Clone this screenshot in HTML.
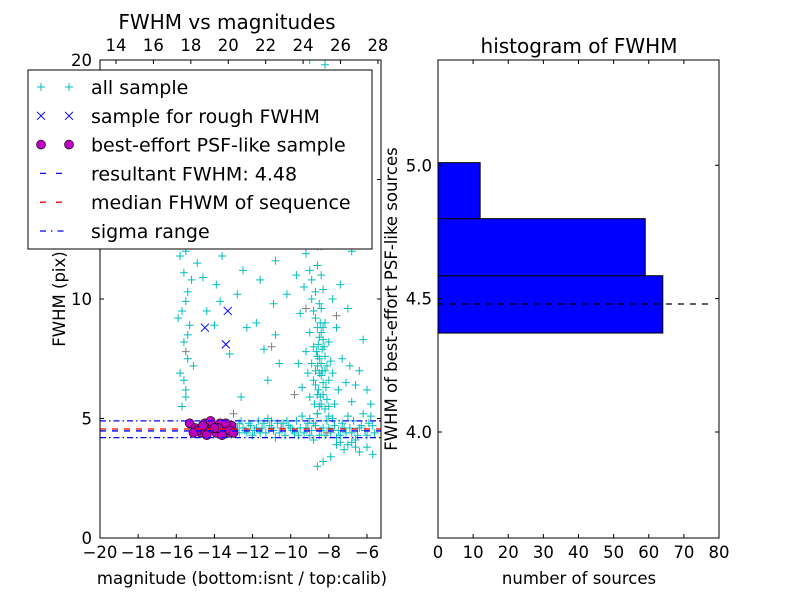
<!DOCTYPE html>
<html><head><meta charset="utf-8"><style>
body{margin:0;background:#fff}
svg{font-family:"DejaVu Sans","Liberation Sans",sans-serif}
</style></head><body>
<svg id="chart" width="800" height="600" viewBox="0 0 800 600">
<rect width="800" height="600" fill="#fff"/>
<g id="left"></g>
<g id="right"></g>
</svg>
<script>
const allSample = [[-15.2,4.6],[-14.8,4.7],[-12.9,4.5],[-12.7,4.8],[-12.5,4.6],[-12.3,4.4],[-12.1,4.7],[-11.9,4.5],[-11.7,4.9],[-11.5,4.6],[-11.3,4.4],[-11.1,4.7],[-10.9,4.5],[-10.7,4.8],[-10.5,4.6],[-10.3,4.3],[-10.1,4.7],[-9.9,4.5],[-9.7,4.9],[-9.5,4.6],[-9.3,4.4],[-9.1,4.8],[-8.9,4.5],[-8.7,4.7],[-8.5,4.3],[-8.3,4.6],[-8.1,4.9],[-7.9,4.4],[-7.7,4.7],[-7.5,4.5],[-7.3,4.8],[-7.1,4.4],[-6.9,4.6],[-6.7,4.9],[-6.5,4.3],[-6.3,4.7],[-6.1,4.5],[-5.9,4.8],[-5.6,4.4],[-12.6,4.9],[-11.2,5.0],[-10.2,4.9],[-9.4,5.1],[-8.6,5.2],[-7.8,5.0],[-7.0,5.1],[-6.2,5.2],[-12.0,4.3],[-10.8,4.2],[-9.6,4.3],[-8.8,4.1],[-7.6,4.2],[-6.6,4.1],[-5.8,5.1],
[-12.8,4.6],[-12.4,4.5],[-12.2,4.8],[-11.8,4.6],[-11.6,4.4],[-11.4,4.8],[-11.0,4.6],[-10.6,4.4],[-10.4,4.8],[-10.0,4.6],[-9.8,4.4],[-9.2,4.6],[-9.0,4.3],[-8.8,4.8],[-8.4,4.5],[-8.2,4.3],[-8.0,4.6],[-7.4,4.3],[-7.2,4.6],[-6.8,4.4],[-6.4,4.6],[-6.0,4.3],[-5.7,4.7],[-12.7,4.4],[-11.0,4.9],[-9.0,5.0],[-8.0,5.1],
[-7.6,3.9],[-7.2,3.7],[-6.8,4.0],[-6.4,3.6],[-6.0,3.8],[-5.7,3.5],[-7.9,3.4],[-8.3,3.2],[-8.6,3.0],[-7.4,4.0],[-7.0,3.9],[-6.6,3.8],
[-8.5,5.5],[-8.3,6.0],[-8.7,6.4],[-8.4,6.8],[-8.6,7.2],[-8.2,7.6],[-8.8,8.0],[-8.5,8.4],[-8.3,8.8],[-8.7,9.2],[-8.4,9.6],[-8.9,10.0],[-8.1,5.8],[-8.0,6.6],[-7.9,7.4],[-8.0,8.2],[-9.0,5.9],[-9.1,6.9],[-9.2,7.8],[-9.0,8.6],[-8.6,5.2],[-8.2,5.4],[-7.7,5.6],[-7.5,6.2],[-7.8,6.9],[-9.4,6.3],[-9.6,7.3],[-8.9,10.8],[-8.6,11.4],[-8.3,10.4],[-9.2,11.9],[-8.8,12.6],[-9.5,9.4],[-7.6,8.8],[-7.3,7.5],[-7.1,6.5],[-6.8,5.7],[-6.6,6.4],[-6.9,7.2],[-7.0,9.6],
[-8.45,5.9],[-8.55,6.2],[-8.35,7.0],[-8.65,7.8],[-8.25,8.0],[-8.45,9.0],[-8.75,5.6],[-8.15,6.3],[-8.5,7.5],[-8.4,8.6],
[-8.6,6.0],[-8.3,6.5],[-8.5,6.9],[-8.7,7.0],[-8.4,7.3],[-8.2,7.0],[-8.6,7.6],[-8.35,7.9],[-8.55,8.1],[-8.3,8.3],[-8.6,8.8],[-8.2,9.0],[-8.5,9.8],[-8.8,9.5],[-8.1,7.2],[-8.9,7.3],[-8.0,5.5],[-8.8,6.6],[-8.4,5.6],[-8.7,10.3],[-8.4,11.0],[-9.0,11.2],[-8.6,12.2],[-9.3,10.5],[-7.8,10.0],
[-9.8,13.0],[-9.3,13.8],[-8.9,14.5],[-9.6,15.2],[-8.5,16.0],[-9.9,16.8],[-9.1,17.5],[-8.7,18.3],[-9.4,19.1],[-8.2,19.8],[-10.3,14.0],[-10.6,12.4],[-10.0,18.0],[-8.0,13.4],[-7.8,15.6],[-7.5,17.2],[-7.2,14.7],[-9.7,11.0],[-10.2,10.2],[-10.8,11.6],[-11.4,13.0],[-11.0,15.5],[-10.5,19.0],[-9.0,20.0],
[-9.5,12.5],[-9.0,13.2],[-8.6,14.0],[-9.2,15.0],[-8.3,15.2],[-9.5,16.2],[-8.9,16.6],[-8.4,17.4],[-9.7,17.8],[-8.9,19.4],[-10.1,15.6],[-9.9,14.6],
[-15.7,5.5],[-15.5,6.2],[-15.8,6.9],[-15.4,7.5],[-15.6,8.2],[-15.3,8.9],[-15.7,9.5],[-15.4,10.3],[-15.6,11.1],[-15.5,12.0],[-15.3,12.8],[-15.6,13.6],[-15.4,15.2],[-15.2,16.4],[-15.9,9.2],[-15.1,7.2],[-15.2,10.8],[-15.8,11.8],[-15.5,5.9],[-15.6,6.6],[-15.4,8.5],[-15.5,9.9],
[-14.9,11.5],[-14.6,10.9],[-14.2,12.3],[-13.9,10.6],[-14.4,9.5],[-13.7,9.9],[-14.0,8.9],[-12.8,10.2],[-12.3,8.8],[-11.8,9.0],[-11.4,7.9],[-13.2,7.7],[-12.6,5.9],[-11.2,6.6],[-10.6,7.3],[-10.8,8.5],[-12.0,12.8],[-13.0,13.5],[-11.7,14.6],[-14.8,14.0],[-12.5,11.2],[-13.6,11.8],[-10.9,9.8],[-11.6,10.8],[-14.3,16.5],[-13.2,17.8],[-12.4,15.8],
[-6.4,7.0],[-6.0,6.2],[-5.8,5.6],[-6.2,8.3],[-7.4,10.6],[-6.8,12.0],[-7.0,18.5],[-6.5,16.2]];
const graySample = [[-9.2,9.6],[-8.4,12.2],[-11.0,8.0],[-15.5,7.8],[-7.6,9.3],[-8.1,4.4],[-10.5,4.6],[-9.8,6.0],[-13.0,5.2],[-8.9,15.9]];
const roughSample = [[-14.5,8.8],[-13.3,9.5],[-13.4,8.1]];
const psfSample = [[-15.3,4.8],[-15.0,4.6],[-14.7,4.4],[-14.5,4.8],[-14.3,4.5],[-14.1,4.7],[-13.9,4.4],[-13.7,4.8],[-13.5,4.6],[-13.3,4.4],[-13.1,4.7],[-14.9,4.5],[-14.6,4.7],[-14.2,4.9],[-13.8,4.6],[-13.4,4.8],[-13.2,4.5],[-15.1,4.4],[-14.4,4.3],[-13.6,4.3],[-14.0,4.6],[-13.0,4.4]];
const resultantFwhm = 4.48;
const medianFwhm = 4.56;
const sigmaRange = [4.2, 4.9];
const xTicks = [-20,-18,-16,-14,-12,-10,-8,-6];
const yTicks = [0,5,10,15,20];
const topTicks = [14,16,18,20,22,24,26,28];
const histEdges = [4.371, 4.586, 4.80, 5.01];
const histCounts = [64, 59, 12];
const histXTicks = [0,10,20,30,40,50,60,70,80];
const histYTicks = [4.0,4.5,5.0];

const NS="http://www.w3.org/2000/svg";
const FT=16.5, FL=19, FTI=20;
function mk(parent,tag,attrs,text){const e=document.createElementNS(NS,tag);for(const k in attrs)e.setAttribute(k,attrs[k]);if(text!==undefined)e.textContent=text;parent.appendChild(e);return e;}
const L=document.getElementById('left'), R=document.getElementById('right');
const lx0=100,lx1=381,ly0=60,ly1=538;
const xs=v=>lx0+(v+20)*19.07;
const ys=v=>ly1-v*23.9;
const xt=v=>lx0+16+(v-14)*18.71;
function plus(g,cx,cy,col,nm){const p=mk(g,'path',{d:`M${cx-4},${cy}h8M${cx},${cy-4}v8`,stroke:col,'stroke-width':1,fill:'none'});}
const clip=mk(L,'clipPath',{id:'lc'});mk(clip,'rect',{x:lx0,y:ly0,width:lx1-lx0,height:ly1-ly0});
const pg=mk(L,'g',{'clip-path':'url(#lc)'});
allSample.forEach(d=>plus(pg,xs(d[0]),ys(d[1]),'#00bfbf','all-sample-point'));
graySample.forEach(d=>plus(pg,xs(d[0]),ys(d[1]),'#808080','all-sample-point'));
roughSample.forEach(d=>{const cx=xs(d[0]),cy=ys(d[1]);const p=mk(pg,'path',{d:`M${cx-4},${cy-4}l8,8M${cx-4},${cy+4}l8,-8`,stroke:'#0000ff','stroke-width':1});});
psfSample.forEach(d=>{const c=mk(pg,'circle',{cx:xs(d[0]),cy:ys(d[1]),r:4.5,fill:'#bf00bf',stroke:'#000','stroke-width':0.6});});
function hline(g,v,col,dash,nm){const l=mk(g,'line',{x1:lx0,x2:lx1,y1:ys(v),y2:ys(v),stroke:col,'stroke-width':1.3,'stroke-dasharray':dash});}
hline(pg,resultantFwhm,'#0000ff','6 6','resultant-fwhm-line');
hline(pg,medianFwhm,'#ff0000','6 6','median-fwhm-line');
sigmaRange.forEach(v=>hline(pg,v,'#0000ff','6 3 1.5 3','sigma-range-line'));
mk(L,'rect',{x:lx0,y:ly0,width:lx1-lx0,height:ly1-ly0,fill:'none',stroke:'#000','stroke-width':1});
xTicks.forEach(v=>{const x=xs(v);mk(L,'path',{d:`M${x},${ly1}v-4`,stroke:'#000'});const t=mk(L,'text',{x:x,y:ly1+20,'font-size':FT,'text-anchor':'middle'},'\u2212'+Math.abs(v));});
yTicks.forEach(v=>{const y=ys(v);mk(L,'path',{d:`M${lx0},${y}h4M${lx1},${y}h-4`,stroke:'#000'});const t=mk(L,'text',{x:lx0-8,y:y+6,'font-size':FT,'text-anchor':'end'},String(v));});
topTicks.forEach(v=>{const x=xt(v);mk(L,'path',{d:`M${x},${ly0}v4`,stroke:'#000'});const t=mk(L,'text',{x:x,y:ly0-9,'font-size':FT,'text-anchor':'middle'},String(v));});
let t;
t=mk(L,'text',{x:227,y:29,'font-size':FTI,'text-anchor':'middle'},'FWHM vs magnitudes');
t=mk(L,'text',{x:242,y:584,'font-size':FT,'text-anchor':'middle'},'magnitude (bottom:isnt / top:calib)');
t=mk(L,'text',{x:0,y:0,'font-size':FT,'text-anchor':'middle',transform:'translate(65,299) rotate(-90)'},'FWHM (pix)');
const lg=mk(L,'g',{});
mk(lg,'rect',{x:28,y:70,width:344,height:179,fill:'#fff',stroke:'#000','stroke-width':1});
const rows=['all sample','sample for rough FWHM','best-effort PSF-like sample','resultant FWHM: 4.48','median FHWM of sequence','sigma range'];
rows.forEach((s,i)=>{const y=87+i*28.8;
 if(i==0){plus(lg,41,y,'#00bfbf','legend-marker');plus(lg,69,y,'#00bfbf','legend-marker');}
 if(i==1){[41,69].forEach(x=>mk(lg,'path',{d:`M${x-4},${y-4}l8,8M${x-4},${y+4}l8,-8`,stroke:'#0000ff'}));}
 if(i==2){[41,69].forEach(x=>mk(lg,'circle',{cx:x,cy:y,r:4.5,fill:'#bf00bf',stroke:'#000','stroke-width':0.6}));}
 if(i==3)mk(lg,'line',{x1:40,x2:68,y1:y,y2:y,stroke:'#0000ff','stroke-width':1.3,'stroke-dasharray':'6 10'});
 if(i==4)mk(lg,'line',{x1:40,x2:68,y1:y,y2:y,stroke:'#ff0000','stroke-width':1.3,'stroke-dasharray':'6 10'});
 if(i==5)mk(lg,'line',{x1:40,x2:68,y1:y,y2:y,stroke:'#0000ff','stroke-width':1.3,'stroke-dasharray':'6 5 1.5 5'});
 const tt=mk(lg,'text',{x:91,y:y+7,'font-size':FL},s);});
const rx0=438,rx1=719,ry0=60,ry1=538;
const hx=v=>rx0+v*3.5125;
const hy=v=>432-(v-4.0)*266.7;
histCounts.forEach((c,i)=>{const y1=hy(histEdges[i+1]),y2=hy(histEdges[i]);const r=mk(R,'rect',{x:rx0,y:y1,width:hx(c)-rx0,height:y2-y1,fill:'#0000ff',stroke:'#000','stroke-width':1});});
const hl=mk(R,'line',{x1:rx0,x2:hx(78),y1:hy(resultantFwhm),y2:hy(resultantFwhm),stroke:'#000','stroke-width':1.3,'stroke-dasharray':'6 6'});
mk(R,'rect',{x:rx0,y:ry0,width:rx1-rx0,height:ry1-ry0,fill:'none',stroke:'#000','stroke-width':1});
histXTicks.forEach(v=>{const x=hx(v);mk(R,'path',{d:`M${x},${ry1}v-4M${x},${ry0}v4`,stroke:'#000'});const tt=mk(R,'text',{x:x,y:ry1+20,'font-size':FT,'text-anchor':'middle'},String(v));});
histYTicks.forEach(v=>{const y=hy(v);mk(R,'path',{d:`M${rx0},${y}h4M${rx1},${y}h-4`,stroke:'#000'});const tt=mk(R,'text',{x:rx0-6,y:y+6,'font-size':FT,'text-anchor':'end'},v.toFixed(1));});
t=mk(R,'text',{x:579,y:53,'font-size':FTI,'text-anchor':'middle'},'histogram of FWHM');
t=mk(R,'text',{x:579,y:584,'font-size':FT,'text-anchor':'middle'},'number of sources');
t=mk(R,'text',{x:0,y:0,'font-size':FT,'text-anchor':'middle',transform:'translate(397,299) rotate(-90)'},'FWHM of best-effort PSF-like sources');
</script>
</body></html>
